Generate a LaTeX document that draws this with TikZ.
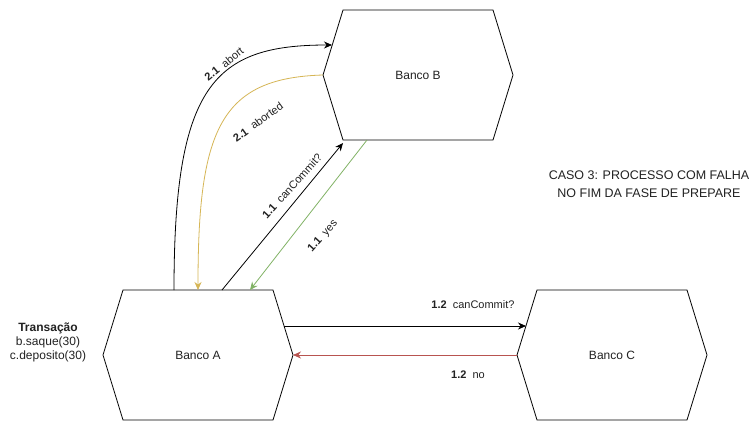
\documentclass[tikz,border=0pt]{standalone}
\usepackage{fontspec}
\setmainfont{Liberation Sans}
\usetikzlibrary{arrows.meta,calc}
\definecolor{yel}{HTML}{D6B656}
\definecolor{grn}{HTML}{82B366}
\definecolor{rd}{HTML}{B85450}
\definecolor{txt}{HTML}{222222}
\tikzset{
  bank/.style={minimum width=190pt,minimum height=130pt,inner sep=0pt,outer sep=0pt,font=\fontsize{12}{14}\selectfont,text=txt},
  hexline/.style={draw=black,line width=0.8pt},
  arr/.style={line width=0.8pt,-{Stealth[length=8pt,width=7pt]}},
  lbl/.style={font=\fontsize{11}{13}\selectfont,text=txt,inner sep=1pt},
  plain/.style={font=\fontsize{12}{14}\selectfont,text=txt,align=center,inner sep=0pt}
}
\newcommand{\gapsp}{\hspace{6pt}}
\begin{document}
\begin{tikzpicture}[x=1pt,y=-1pt]
\useasboundingbox (0,0) rectangle (754,431);
\fill[white] (0,0) rectangle (754,431);
\node[bank] (A) at (198,355) {Banco A};
\node[bank] (B) at (418,75) {Banco B};
\node[bank] (C) at (612,355) {Banco C};
\foreach \n in {A,B,C}
  \draw[hexline] (\n.west) -- ([xshift=20pt]\n.north west) -- ([xshift=-20pt]\n.north east) -- (\n.east) -- ([xshift=-20pt]\n.south east) -- ([xshift=20pt]\n.south west) -- cycle;
% arrows
\draw[arr] ([xshift=24pt]A.north) -- ([xshift=20pt,yshift=-3pt]B.south west);
\draw[arr,draw=grn,-{Stealth[length=8pt,width=7pt,fill=grn]}] ([xshift=-51pt]B.south) -- ([xshift=52pt]A.north);
\draw[arr] ([xshift=-24pt]A.north) .. controls +(0,-205) and +(-118,0) .. ([xshift=9pt,yshift=30pt]B.west);
\draw[arr,draw=yel,-{Stealth[length=8pt,width=7pt,fill=yel]}] (B.west) .. controls +(-103,3) and +(0,-160) .. (A.north);
\draw[arr] ($(A.east)+(-9,-29)$) -- ($(C.west)+(9,-29)$);
\draw[arr,draw=rd,-{Stealth[length=8pt,width=7pt,fill=rd]}] (C.west) -- (A.east);
% labels
\node[lbl,rotate=39] (l1) at (224,64) {\textbf{2.1}\gapsp abort};
\node[lbl,rotate=36] (l2) at (258,122) {\textbf{2.1}\gapsp aborted};
\node[lbl,rotate=48] (l3) at (292,186) {\textbf{1.1}\gapsp canCommit?};
\node[lbl,rotate=48] (l4) at (323,236) {\textbf{1.1}\gapsp yes};
\node[lbl] (l5) at (473,305) {\textbf{1.2}\gapsp canCommit?};
\node[lbl] (l6) at (468,375) {\textbf{1.2}\gapsp no};
\node[plain] (t) at (48,342) {\textbf{Transação}\\b.saque(30)\\c.deposito(30)};
\node[plain,font=\fontsize{12.5}{18}\selectfont] (caso) at (649,184) {CASO 3: PROCESSO COM FALHA\\NO FIM DA FASE DE PREPARE};
\end{tikzpicture}
\end{document}
